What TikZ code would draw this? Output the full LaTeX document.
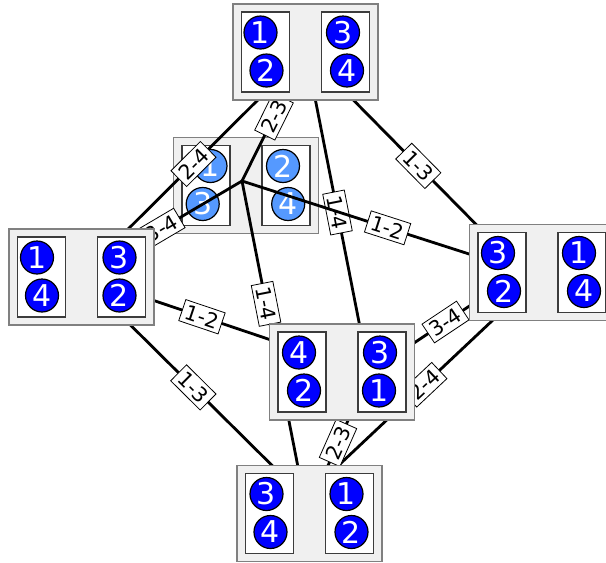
\documentclass[tikz,border=0pt]{standalone}
\usepackage{fontspec}
\setmainfont{DejaVu Sans}
\usetikzlibrary{positioning}
\definecolor{boxfill}{RGB}{240,240,240}
\definecolor{boxline}{RGB}{128,128,128}
\definecolor{tubeline}{RGB}{60,60,60}
\definecolor{ballblue}{RGB}{0,0,255}
\definecolor{ghostblue}{RGB}{85,153,255}
\tikzstyle{board} = [draw=boxline, fill=boxfill, line width=1.6pt, minimum width=145pt, minimum height=96pt, inner sep=0pt]
\tikzstyle{tube} = [draw=tubeline, fill=white, line width=1.2pt, minimum width=48pt, minimum height=80pt, inner sep=0pt]
\tikzstyle{ball} = [circle, draw=black, line width=1.2pt, fill=ballblue, text=white, minimum size=33pt, inner sep=0pt, font={\fontsize{30}{30}\selectfont}]
\tikzstyle{ghost} = [ball, fill=ghostblue]
\tikzstyle{swapline} = [draw, line width=2.8pt, line cap=round]
\tikzstyle{swaplabel} = [draw, fill=white, line width=0.8pt, inner xsep=4pt, inner ysep=3.5pt, sloped, font={\fontsize{20.5}{20.5}\selectfont}]

% one state: outer board, two tubes, two balls in each
\newcommand{\puzzle}[5]{%
  \node[board] (#1) at #2 {};
  \node[tube] (#1-l) at ([xshift=-40pt]#1.center) {};
  \node[tube] (#1-r) at ([xshift=40pt]#1.center) {};
  \foreach \n/\dx [count=\i] in {#3}
    \node[#5] at ([xshift=\dx pt, yshift={57.5-38*\i}]#1-l.center) {\n};
  \foreach \n/\dx [count=\i] in {#4}
    \node[#5] at ([xshift=\dx pt, yshift={57.5-38*\i}]#1-r.center) {\n};
}

\begin{document}
\begin{tikzpicture}[x=1pt, y=-1pt]
  \useasboundingbox (0,0) rectangle (606,563);

  % where the swaps meet
  \coordinate (t) at (306,52);
  \coordinate (m) at (242,181);
  \coordinate (l) at (81,276);
  \coordinate (r) at (522,271);
  \coordinate (c) at (369,373);
  \coordinate (b) at (307,513);

  % back state, under the swaps
  \puzzle{back}{(246,185.5)}{1/4.5, 3/-3.3}{2/-3, 4/2.2}{ghost}

  \draw[swapline] (t) -- node[swaplabel] {2-4} (l);
  \draw[swapline] (t) -- node[swaplabel] {2-3} (m);
  \draw[swapline] (t) -- node[swaplabel] {1-4} (c);
  \draw[swapline] (t) -- node[swaplabel, pos=0.52] {1-3} (r);
  \draw[swapline] (m) -- node[swaplabel] {3-4} (l);
  \draw[swapline] (m) -- node[swaplabel, pos=0.52] {1-2} (r);
  \draw[swapline] (m) -- node[swaplabel, pos=0.37] {1-4} (b);
  \draw[swapline] (l) -- node[swaplabel, pos=0.42] {1-2} (c);
  \draw[swapline] (l) -- node[swaplabel, pos=0.47] {1-3} ([xshift=13pt]b);
  \draw[swapline] (r) -- node[swaplabel] {3-4} (c);
  \draw[swapline] ([xshift=23pt]r) -- node[swaplabel, pos=0.47] {2-4} ([xshift=-19pt]b);
  \draw[swapline] (c) -- node[swaplabel] {2-3} (b);

  \puzzle{top}{(305.5,52)}{1/-5, 2/1}{3/-2.5, 4/1.5}{ball}
  \puzzle{west}{(81.5,277)}{1/-4.5, 4/0.5}{3/-2, 2/-2}{ball}
  \puzzle{east}{(542,272.5)}{3/-4, 2/2}{1/-3, 4/2}{ball}
  \puzzle{front}{(342,372)}{4/-3, 2/2}{3/-2, 1/-3}{ball}
  \puzzle{bottom}{(309.5,513.5)}{3/-3, 4/1}{1/-3, 2/2}{ball}
\end{tikzpicture}
\end{document}
